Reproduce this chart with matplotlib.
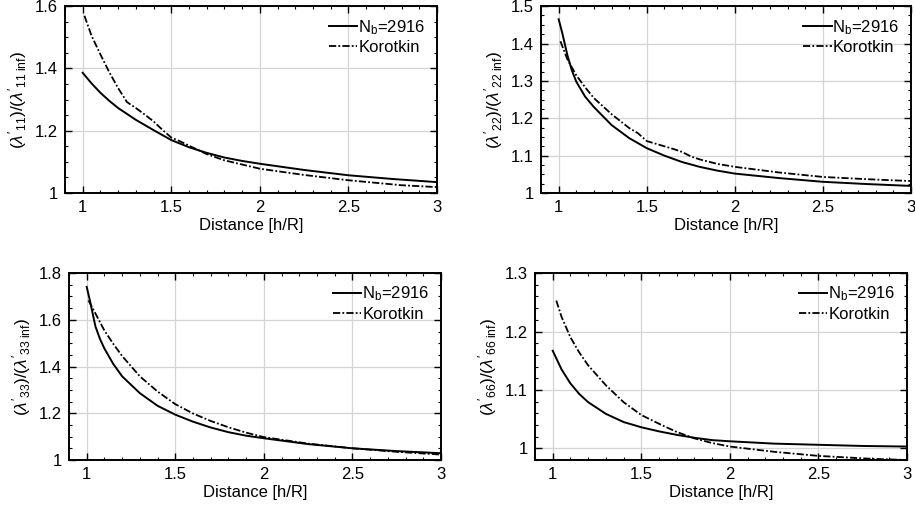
import matplotlib
matplotlib.use('Agg')
import matplotlib.pyplot as plt
from matplotlib.ticker import MultipleLocator

plt.rcParams['font.family'] = ['Liberation Sans', 'DejaVu Sans']
plt.rcParams['mathtext.fontset'] = 'custom'
plt.rcParams['mathtext.rm'] = 'Liberation Sans'
plt.rcParams['mathtext.it'] = 'Liberation Sans:italic'
plt.rcParams['mathtext.sf'] = 'Liberation Sans'

# lambda_11
x11_nb = [1.0, 1.05, 1.1, 1.15, 1.2, 1.3, 1.4, 1.5, 1.6, 1.7, 1.8, 1.9, 2.0, 2.25, 2.5, 2.75, 3.0]
y11_nb = [1.386, 1.352, 1.322, 1.296, 1.273, 1.235, 1.202, 1.170, 1.147, 1.129, 1.114, 1.103, 1.094, 1.074, 1.057, 1.045, 1.035]
x11_kor = [1.01, 1.05, 1.1, 1.15, 1.2, 1.25, 1.3, 1.35, 1.4, 1.45, 1.5, 1.55, 1.6, 1.7, 1.8, 2.0, 2.25, 2.5, 2.8, 3.0]
y11_kor = [1.569, 1.505, 1.445, 1.388, 1.337, 1.292, 1.273, 1.252, 1.230, 1.203, 1.178, 1.166, 1.152, 1.125, 1.105, 1.078, 1.058, 1.041, 1.025, 1.019]

# lambda_22
x22_nb = [1.0, 1.02, 1.05, 1.075, 1.1, 1.15, 1.2, 1.3, 1.4, 1.5, 1.6, 1.7, 1.8, 1.9, 2.0, 2.25, 2.5, 2.75, 3.0]
y22_nb = [1.465, 1.429, 1.368, 1.328, 1.298, 1.258, 1.230, 1.182, 1.147, 1.120, 1.100, 1.083, 1.070, 1.060, 1.052, 1.040, 1.030, 1.024, 1.019]
x22_kor = [1.01, 1.05, 1.1, 1.15, 1.2, 1.3, 1.4, 1.45, 1.5, 1.6, 1.65, 1.7, 1.75, 1.8, 1.9, 2.0, 2.25, 2.5, 2.75, 3.0]
y22_kor = [1.406, 1.357, 1.315, 1.283, 1.254, 1.211, 1.174, 1.160, 1.139, 1.125, 1.118, 1.110, 1.098, 1.090, 1.078, 1.070, 1.055, 1.043, 1.037, 1.032]

# lambda_33
x33_nb = [1.0, 1.02, 1.04, 1.05, 1.075, 1.1, 1.15, 1.2, 1.3, 1.4, 1.5, 1.6, 1.7, 1.8, 1.9, 2.0, 2.25, 2.5, 2.75, 3.0]
y33_nb = [1.741, 1.676, 1.604, 1.570, 1.518, 1.477, 1.411, 1.358, 1.286, 1.232, 1.194, 1.164, 1.139, 1.119, 1.104, 1.093, 1.068, 1.050, 1.038, 1.029]
x33_kor = [1.01, 1.05, 1.1, 1.15, 1.2, 1.3, 1.4, 1.5, 1.6, 1.7, 1.8, 1.9, 2.0, 2.25, 2.5, 2.75, 3.0]
y33_kor = [1.683, 1.626, 1.554, 1.497, 1.445, 1.358, 1.293, 1.239, 1.199, 1.167, 1.140, 1.117, 1.098, 1.070, 1.050, 1.035, 1.023]

# lambda_66
x66_nb = [1.0, 1.05, 1.1, 1.15, 1.2, 1.3, 1.4, 1.5, 1.6, 1.7, 1.8, 1.9, 2.0, 2.25, 2.5, 2.75, 3.0]
y66_nb = [1.167, 1.135, 1.111, 1.093, 1.079, 1.059, 1.045, 1.036, 1.029, 1.023, 1.018, 1.014, 1.012, 1.008, 1.006, 1.004, 1.003]
x66_kor = [1.02, 1.05, 1.1, 1.15, 1.2, 1.3, 1.4, 1.5, 1.6, 1.7, 1.8, 1.9, 2.0, 2.25, 2.5, 2.8, 3.0]
y66_kor = [1.253, 1.225, 1.190, 1.164, 1.142, 1.108, 1.079, 1.057, 1.042, 1.028, 1.017, 1.009, 1.003, 0.994, 0.987, 0.982, 0.980]

panels = [
    ('11', x11_nb, y11_nb, x11_kor, y11_kor, (1.0, 1.6), 0.2, 0.05),
    ('22', x22_nb, y22_nb, x22_kor, y22_kor, (1.0, 1.5), 0.1, 0.025),
    ('33', x33_nb, y33_nb, x33_kor, y33_kor, (1.0, 1.8), 0.2, 0.05),
    ('66', x66_nb, y66_nb, x66_kor, y66_kor, (0.98, 1.3), 0.1, 0.02),
]

positions = [
    [0.0710, 0.623, 0.4066, 0.365],
    [0.5913, 0.623, 0.4044, 0.365],
    [0.0754, 0.1016, 0.4066, 0.365],
    [0.5847, 0.1016, 0.4066, 0.365],
]

fig = plt.figure(figsize=(9.15, 5.12), dpi=100)

for pos, (idx, xn, yn, xk, yk, ylim, ymaj, ymin) in zip(positions, panels):
    ax = fig.add_axes(pos)
    ax.plot(xn, yn, color='black', lw=1.4, label=r'N$_\mathrm{b}$=2916')
    ax.plot(xk, yk, color='black', lw=1.3, linestyle=(0, (4, 1.2, 1, 1.2)), label='Korotkin')
    ax.set_xlim(0.9, 3.0)
    ax.set_ylim(*ylim)
    ax.xaxis.set_major_locator(MultipleLocator(0.5))
    ax.xaxis.set_minor_locator(MultipleLocator(0.1))
    ax.yaxis.set_major_locator(MultipleLocator(ymaj))
    ax.yaxis.set_minor_locator(MultipleLocator(ymin))
    ax.xaxis.set_major_formatter(plt.FuncFormatter(lambda v, p: f'{v:g}'))
    ax.yaxis.set_major_formatter(plt.FuncFormatter(lambda v, p: f'{v:g}'))
    ax.grid(True, which='major', color='#d4d4d4', lw=0.9)
    ax.set_axisbelow(True)
    ax.tick_params(which='both', direction='in', top=True, right=True, labelsize=12)
    ax.tick_params(which='major', length=5, width=1, pad=5)
    ax.tick_params(which='minor', length=2.5, width=0.8)
    for s in ax.spines.values():
        s.set_linewidth(1.4)
    ax.set_xlabel('Distance [h/R]', fontsize=12, labelpad=2)
    ax.set_ylabel(r"$(\lambda'_{%s})/(\lambda'_{%s\ \mathrm{inf}})$" % (idx, idx), fontsize=12.5, labelpad=4)
    ax.legend(loc='upper right', frameon=False, fontsize=12, handlelength=1.7,
              handletextpad=0.05, borderaxespad=0.3, borderpad=0.4, labelspacing=0.2)

plt.savefig('out.png', dpi=100)
